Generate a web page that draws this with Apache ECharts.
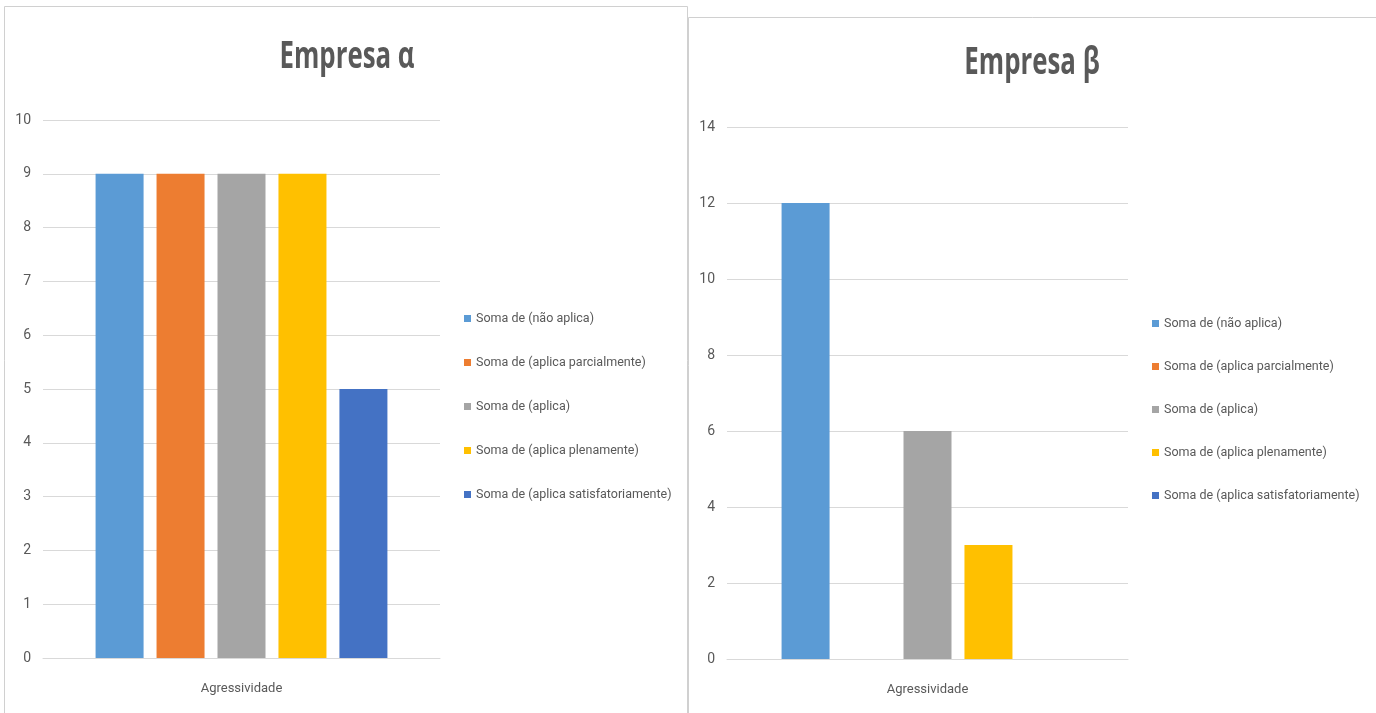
<!DOCTYPE html>
<html>
<head>
<meta charset="utf-8">
<script src="https://cdn.jsdelivr.net/npm/echarts@6/dist/echarts.min.js"></script>
<style>
  html, body { margin: 0; padding: 0; background: #ffffff; }
  #chart { width: 1376px; height: 713px; }
</style>
</head>
<body>
<div id="chart"></div>
<script>
// Categories and series shared by both companies
const categories = ['Agressividade'];
const seriesNames = [
  'Soma de (não aplica)',
  'Soma de (aplica parcialmente)',
  'Soma de (aplica)',
  'Soma de (aplica plenamente)',
  'Soma de (aplica satisfatoriamente)'
];
const seriesColors = ['#5B9BD5', '#ED7D31', '#A5A5A5', '#FFC000', '#4472C4'];

// Values per company, in the order of seriesNames
const alphaValues = [9, 9, 9, 9, 5];
const betaValues = [12, 0, 6, 3, 0];

// Titles and value-axis ranges
const titles = ['Empresa α', 'Empresa β'];
const alphaAxis = { min: 0, max: 10, interval: 1 };
const betaAxis = { min: 0, max: 14, interval: 2 };

const textColor = '#595959';
const gridColor = '#d9d9d9';
const family = 'Roboto, "Noto Sans", sans-serif';
const titleFamily = '"Open Sans", "Noto Sans", sans-serif';

const chart = echarts.init(document.getElementById('chart'), null, { renderer: 'canvas' });

function valueAxis(idx, range) {
  return {
    type: 'value', gridIndex: idx,
    min: range.min, max: range.max, interval: range.interval,
    axisLine: { show: false }, axisTick: { show: false },
    axisLabel: { color: textColor, fontFamily: family, fontSize: 14, margin: 12 },
    splitLine: { lineStyle: { color: gridColor, width: 1 } }
  };
}
function categoryAxis(idx) {
  return {
    type: 'category', gridIndex: idx, data: categories,
    axisLine: { lineStyle: { color: gridColor } }, axisTick: { show: false },
    axisLabel: { color: textColor, fontFamily: family, fontSize: 13, margin: 24 }
  };
}
function legend(left, top, gap) {
  return {
    orient: 'vertical', left: left, top: top, itemGap: gap,
    itemWidth: 7, itemHeight: 7, icon: 'rect', itemTextGap: 4,
    textStyle: { color: textColor, fontFamily: family, fontSize: 12.5 },
    data: seriesNames
  };
}
// Chart heading: condensed bold text, centred over each panel
function heading(text, cx, baseline) {
  return {
    type: 'text', x: cx, y: baseline, scaleX: 0.68, z: 10,
    style: {
      text: text, fill: textColor, align: 'center', verticalAlign: 'bottom',
      fontFamily: titleFamily, fontWeight: 'bold', fontSize: 38
    }
  };
}

const series = [];
[alphaValues, betaValues].forEach((vals, g) => {
  seriesNames.forEach((name, i) => {
    series.push({
      name: name, type: 'bar',
      xAxisIndex: g, yAxisIndex: g,
      barWidth: 48, barGap: '27%',
      itemStyle: { color: seriesColors[i] },
      data: [vals[i]]
    });
  });
});

chart.setOption({
  animation: false,
  graphic: [
    { type: 'rect', shape: { x: 4.5, y: 6.5, width: 683, height: 720 },
      style: { fill: '#ffffff', stroke: '#d0d0d0', lineWidth: 1 }, z: -10 },
    { type: 'rect', shape: { x: 688.5, y: 17.5, width: 700, height: 720 },
      style: { fill: '#ffffff', stroke: '#d0d0d0', lineWidth: 1 }, z: -10 },
    heading(titles[0], 347, 76),
    heading(titles[1], 1032, 82)
  ],
  legend: [legend(459, 307, 31), legend(1147, 312, 30)],
  grid: [
    { left: 43, right: 936, top: 120, bottom: 55 },
    { left: 727, right: 248, top: 127, bottom: 54 }
  ],
  xAxis: [categoryAxis(0), categoryAxis(1)],
  yAxis: [valueAxis(0, alphaAxis), valueAxis(1, betaAxis)],
  series: series
});
</script>
</body>
</html>
